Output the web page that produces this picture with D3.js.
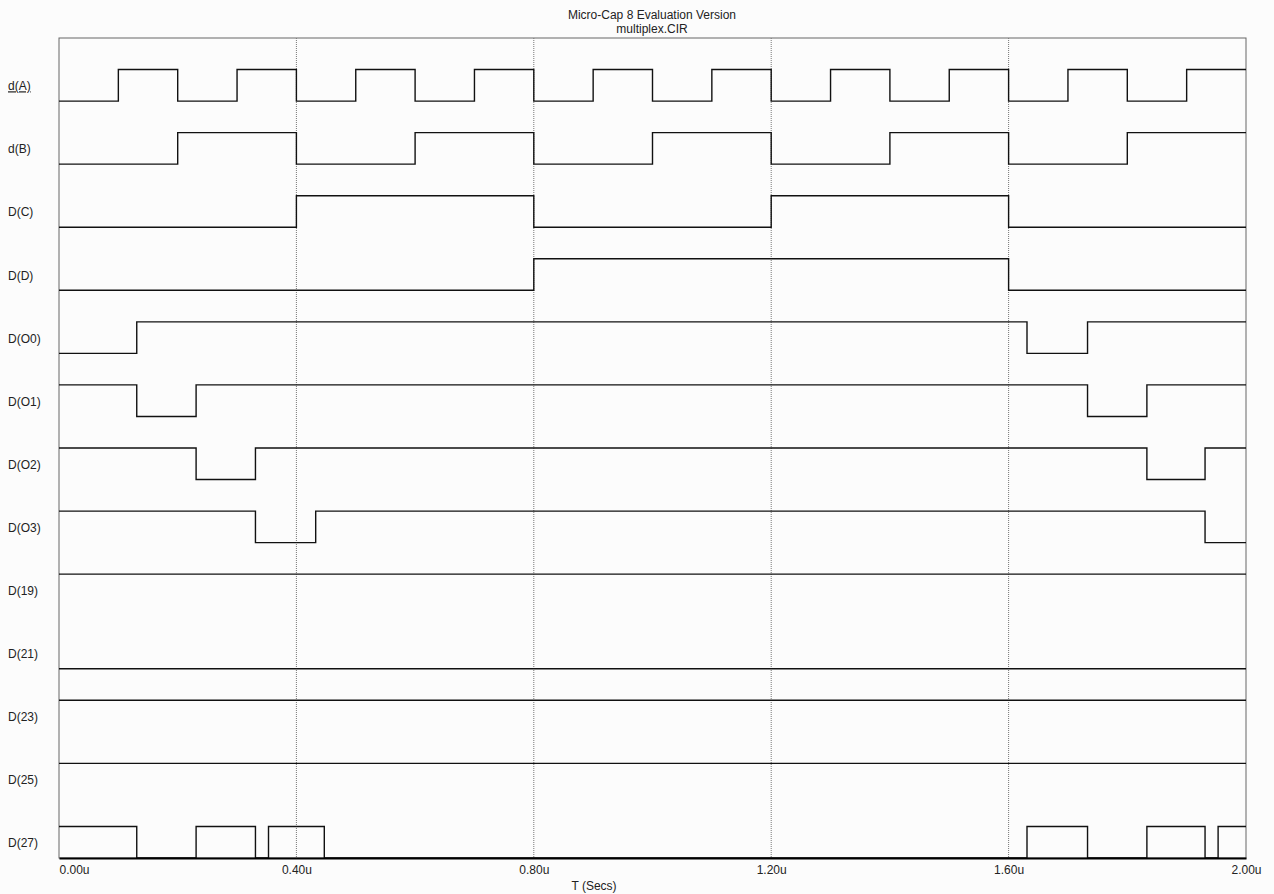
<!DOCTYPE html>
<html>
<head>
<meta charset="utf-8">
<script src="https://cdn.jsdelivr.net/npm/d3@7"></script>
<style>
  body { margin: 0; background: #fcfcfc; }
  text { font-family: Arial, "Liberation Sans", sans-serif; fill: #222; }
</style>
</head>
<body>
<svg id="chart" width="1274" height="894"></svg>
<script>
// signal names, top to bottom
const names = ["d(A)", "d(B)", "D(C)", "D(D)", "D(O0)", "D(O1)", "D(O2)", "D(O3)",
  "D(19)", "D(21)", "D(23)", "D(25)", "D(27)"];
// logic level at t = 0
const startLevel = [0, 0, 0, 0, 0, 1, 1, 1, 1, 0, 1, 1, 1];
// toggle times in microseconds
const edgesA = [0.1, 0.2, 0.3, 0.4, 0.5, 0.6, 0.7, 0.8, 0.9, 1.0, 1.1, 1.2, 1.3, 1.4, 1.5, 1.6, 1.7, 1.8, 1.9];
const edgesB = [0.2, 0.4, 0.6, 0.8, 1.0, 1.2, 1.4, 1.6, 1.8];
const edgesC = [0.4, 0.8, 1.2, 1.6];
const edgesD = [0.8, 1.6];
const edgesO0 = [0.131, 1.631, 1.733];
const edgesO1 = [0.131, 0.231, 1.733, 1.833];
const edgesO2 = [0.231, 0.331, 1.833, 1.931];
const edgesO3 = [0.331, 0.4325, 1.931];
const edges19 = [];
const edges21 = [];
const edges23 = [];
const edges25 = [];
const edges27 = [0.131, 0.231, 0.331, 0.353, 0.447, 1.631, 1.733, 1.833, 1.931, 1.953];
const allEdges = [edgesA, edgesB, edgesC, edgesD, edgesO0, edgesO1, edgesO2, edgesO3,
  edges19, edges21, edges23, edges25, edges27];
const tickValues = [0, 0.4, 0.8, 1.2, 1.6, 2.0];
const gridValues = [0.4, 0.8, 1.2, 1.6];

const svg = d3.select("#chart");
const plotLeft = 59, plotRight = 1246, plotTop = 38, plotBottom = 858;

const x = d3.scaleLinear().domain([0, 2]).range([plotLeft, plotRight]);
const row = d3.scaleBand().domain(names).range([plotTop, plotBottom]).padding(0);

function levelY(name, level) {
  return row(name) + (level ? row.bandwidth() / 2 : row.bandwidth());
}

// title
svg.append("text").attr("x", 652).attr("y", 19).attr("text-anchor", "middle")
  .attr("font-size", 12).text("Micro-Cap 8 Evaluation Version");
svg.append("text").attr("x", 652).attr("y", 33).attr("text-anchor", "middle")
  .attr("font-size", 12).text("multiplex.CIR");

// frame
svg.append("rect").attr("x", plotLeft).attr("y", plotTop)
  .attr("width", plotRight - plotLeft).attr("height", plotBottom - plotTop)
  .attr("fill", "none").attr("stroke", "#666").attr("stroke-width", 1);

// dotted grid
svg.append("g").selectAll("line").data(gridValues).join("line")
  .attr("x1", d => x(d)).attr("x2", d => x(d))
  .attr("y1", plotTop).attr("y2", plotBottom)
  .attr("stroke", "#777").attr("stroke-width", 1)
  .attr("stroke-dasharray", "1,1");

// waveforms
const waves = names.map((name, i) => {
  const pts = [];
  let lvl = startLevel[i];
  pts.push([0, lvl]);
  allEdges[i].forEach(t => {
    pts.push([t, lvl]);
    lvl = 1 - lvl;
    pts.push([t, lvl]);
  });
  pts.push([2, lvl]);
  return { name, pts };
});

const line = d3.line()
  .x(d => x(d[0]));

svg.append("g").selectAll("path").data(waves).join("path")
  .attr("d", w => line.y(d => levelY(w.name, d[1]))(w.pts))
  .attr("fill", "none")
  .attr("stroke", "#111")
  .attr("stroke-width", 1.4);

// signal labels
svg.append("g").selectAll("text").data(names).join("text")
  .attr("x", 8)
  .attr("y", d => (levelY(d, 0) + levelY(d, 1)) / 2 + 5)
  .attr("font-size", 12)
  .attr("text-decoration", (d, i) => i === 0 ? "underline" : null)
  .text(d => d);

// x axis
const axis = svg.append("g")
  .attr("transform", "translate(0," + plotBottom + ")")
  .call(d3.axisBottom(x).tickValues(tickValues).tickSize(0).tickPadding(7)
    .tickFormat(d => d.toFixed(2) + "u"));
axis.select(".domain").attr("stroke", "#000").attr("stroke-width", 2);
axis.selectAll("text")
  .attr("font-size", 12)
  .attr("font-family", "Arial, 'Liberation Sans', sans-serif")
  .attr("fill", "#222")
  .attr("text-anchor", (d, i) => i === 0 ? "start" : "middle");

svg.append("text").attr("x", 594).attr("y", 890).attr("text-anchor", "middle")
  .attr("font-size", 12).text("T (Secs)");
</script>
</body>
</html>
